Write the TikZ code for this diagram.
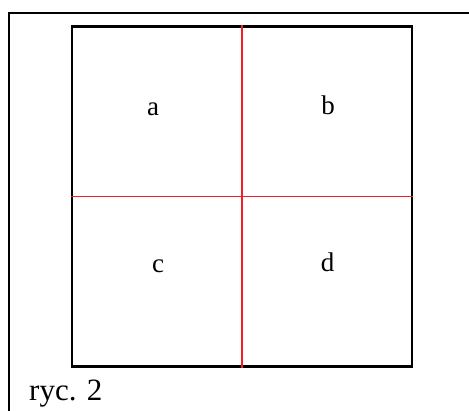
\documentclass[tikz,border=0pt]{standalone}
\usepackage{fontspec}
\setmainfont{Liberation Serif}
\usetikzlibrary{positioning}
\definecolor{ink}{HTML}{000000}
\definecolor{cdiv}{HTML}{F0202A}
\tikzset{
  frame/.style={draw=ink, line width=1.6pt},
  quad/.style={draw=ink, line width=2.2pt, minimum width=340pt, minimum height=340pt, inner sep=0pt},
  divv/.style={draw=cdiv, line width=1.2pt},
  divh/.style={draw=cdiv, line width=1.2pt},
  lbl/.style={font=\fontsize{27}{32}\selectfont, anchor=base, inner sep=0pt},
  caption/.style={font=\fontsize{31}{36}\selectfont, anchor=base west, inner sep=0pt},
}
\begin{document}
\begin{tikzpicture}[x=1pt,y=-1pt]
\useasboundingbox (0,0) rectangle (469,411);
\clip (0,0) rectangle (469,411);
% outer frame, cut at the page edge
\draw[frame] (9,13) rectangle (480,425);
% square and its quarters
\node[quad] (sq) at (242,196.5) {};
\draw[divv] (sq.north) -- (sq.south);
\draw[divh] (sq.west) -- (sq.east);
\node[lbl] (la) at (153,116) {a};
\node[lbl] (lb) at (328,115) {b};
\node[lbl] (lc) at (158,273) {c};
\node[lbl] (ld) at (327.5,272) {d};
% caption
\node[caption] (ryc) at (29,401) {ryc. 2};
\end{tikzpicture}
\end{document}
